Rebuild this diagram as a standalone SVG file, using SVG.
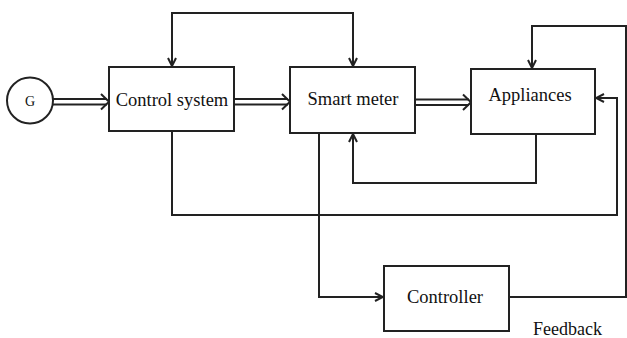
<svg xmlns="http://www.w3.org/2000/svg" width="627" height="338" viewBox="0 0 627 338">
<defs>
<style>
.box{fill:#fff;stroke:#222;stroke-width:2}
.ln{fill:none;stroke:#222;stroke-width:2}
.t{font-family:"Liberation Serif","Times New Roman",serif;font-size:18.5px;fill:#111;text-anchor:middle}
</style>
<marker id="ah" viewBox="0 0 10 10" refX="9" refY="5" markerWidth="10" markerHeight="10" markerUnits="userSpaceOnUse" orient="auto">
<path d="M1,1 L9,5 L1,9" fill="none" stroke="#222" stroke-width="2"/>
</marker>
</defs>
<rect width="627" height="338" fill="#fff"/>
<g id="connectors">
<g class="ln">
<line x1="53" y1="99" x2="107" y2="99"/><line x1="53" y1="104.5" x2="107" y2="104.5"/>
<polyline points="101,94 109,101.8 101,109.5"/>
<line x1="234" y1="99" x2="288" y2="99"/><line x1="234" y1="104.5" x2="288" y2="104.5"/>
<polyline points="282,94 290,101.8 282,109.5"/>
<line x1="415" y1="99.5" x2="469" y2="99.5"/><line x1="415" y1="105" x2="469" y2="105"/>
<polyline points="463,94.5 471,102.2 463,110"/>
</g>
<polyline class="ln" points="353,13 172,13 172,66" marker-end="url(#ah)"/>
<polyline class="ln" points="172,13 353,13 353,66" marker-end="url(#ah)"/>
<polyline class="ln" points="172,131 172,215 617,215 617,98 596,98" marker-end="url(#ah)"/>
<polyline class="ln" points="536,134 536,183 353,183 353,134" marker-end="url(#ah)"/>
<polyline class="ln" points="319,133 319,297 383,297" marker-end="url(#ah)"/>
<polyline class="ln" points="509,297 626,297 626,26 532,26 532,68" marker-end="url(#ah)"/>
</g>
<g id="G">
<circle cx="30" cy="100.5" r="23" class="box"/>
<text x="30" y="105.5" class="t" style="font-size:14px">G</text>
</g>
<g id="control-system">
<rect x="109" y="67" width="125" height="64" class="box"/>
<text x="172" y="106" class="t">Control system</text>
</g>
<g id="smart-meter">
<rect x="290" y="67" width="125" height="66" class="box"/>
<text x="353" y="105" class="t">Smart meter</text>
</g>
<g id="appliances">
<rect x="471" y="69" width="124" height="65" class="box"/>
<text x="530" y="101" class="t">Appliances</text>
</g>
<g id="controller">
<rect x="384" y="266" width="125" height="65" class="box"/>
<text x="445" y="303" class="t">Controller</text>
</g>
<text x="567.5" y="335" class="t" style="font-size:18px">Feedback</text>
</svg>
